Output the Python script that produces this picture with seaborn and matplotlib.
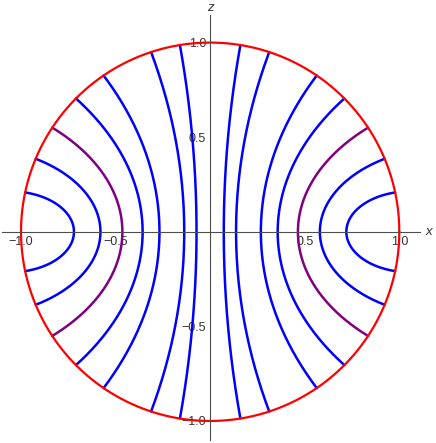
import numpy as np
import pandas as pd
import seaborn as sns
from matplotlib import pyplot as plt
from matplotlib.ticker import MultipleLocator

# values (right half; left half is the mirror image)
vertex_x = [0.072, 0.137, 0.268, 0.357, 0.464, 0.58, 0.72]  # where each curve crosses z = 0
end_angle_deg = [80.8, 71.8, 55.7, 44.8, 33.4, 22.7, 12.0]  # where it meets the circle
curve_colors = ["blue", "blue", "blue", "blue", "purple", "blue", "blue"]
circle_radius = 1.0
major_ticks = [-1.0, -0.5, 0.5, 1.0]
shape_k = 0.4  # 0 = parabola, 1 = circle; the curves sit in between

sns.set_style("white")
plt.rcParams["font.family"] = ["Liberation Sans", "DejaVu Sans"]

color_map = {"blue": (0.0, 0.0, 1.0), "purple": (0.5, 0.0, 0.5)}


def curve_frame(a, ang, side):
    # conic z^2 = 2p u - k u^2 (u = x - a) through vertex and end point on circle
    th = np.radians(ang)
    xe, ze = circle_radius * np.cos(th), circle_radius * np.sin(th)
    ue = xe - a
    p = (ze**2 + shape_k * ue**2) / (2 * ue)
    z = np.linspace(-ze, ze, 300)
    u = (p - np.sqrt(np.maximum(p**2 - shape_k * z**2, 0))) / shape_k
    return pd.DataFrame({"x": side * (a + u), "z": z})


fig = plt.figure(figsize=(4.36, 4.43), dpi=100)
ax = fig.add_axes([2.1 / 436, 3.1 / 443, 418.0 / 436, 425.3 / 443])

for a, ang, col in zip(vertex_x, end_angle_deg, curve_colors):
    for side in (-1, 1):
        d = curve_frame(a, ang, side)
        sns.lineplot(data=d, x="x", y="z", sort=False, estimator=None,
                     color=color_map[col], lw=1.8, ax=ax)

t = np.linspace(0, 2 * np.pi, 400)
circ = pd.DataFrame({"x": circle_radius * np.cos(t), "z": circle_radius * np.sin(t)})
sns.lineplot(data=circ, x="x", y="z", sort=False, estimator=None,
             color=(1.0, 0.0, 0.0), lw=1.6, ax=ax)

ax.set_xlim(-1.1, 1.11)
ax.set_ylim(-1.1, 1.148)
ax.set_aspect("auto")

axis_col = "0.3"
for s in ["top", "right"]:
    ax.spines[s].set_visible(False)
ax.spines["left"].set_position(("data", 0))
ax.spines["bottom"].set_position(("data", 0))
for s in ["left", "bottom"]:
    ax.spines[s].set_color(axis_col)
    ax.spines[s].set_linewidth(0.8)

ax.set_xticks(major_ticks)
ax.set_yticks(major_ticks)
ax.set_xticklabels([f"{v:.1f}".replace("-", "\u2212") for v in major_ticks])
ax.set_yticklabels([f"{v:.1f}".replace("-", "\u2212") for v in major_ticks])
ax.xaxis.set_minor_locator(MultipleLocator(0.1))
ax.yaxis.set_minor_locator(MultipleLocator(0.1))
ax.tick_params(which="major", direction="in", length=3.5, width=0.7,
               color=axis_col, labelsize=9, labelcolor="0.2", pad=3)
ax.tick_params(which="minor", direction="in", length=2, width=0.6, color=axis_col)
ax.tick_params(axis="y", pad=3)

ax.set_xlabel("")
ax.set_ylabel("")
ax.text(1.155, 0.0, "x", style="italic", fontsize=9.5, color="0.2",
        ha="center", va="center", transform=ax.transData, clip_on=False)
ax.text(0.0, 1.185, "z", style="italic", fontsize=9.5, color="0.2",
        ha="center", va="center", transform=ax.transData, clip_on=False)

fig.savefig("out.png", dpi=100)
